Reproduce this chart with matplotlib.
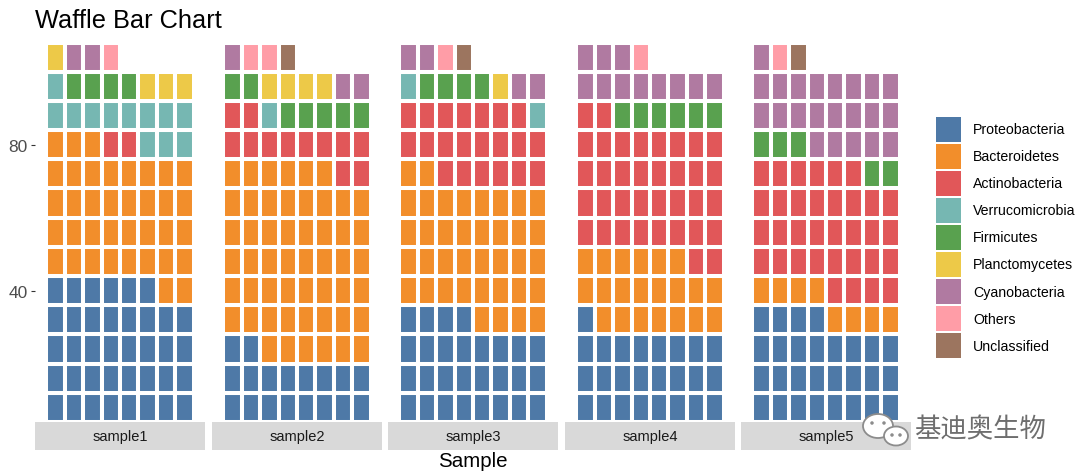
import matplotlib
matplotlib.use("Agg")
import matplotlib.pyplot as plt
from matplotlib.patches import Rectangle, Ellipse

# ---------------- data ----------------
categories = ["Proteobacteria", "Bacteroidetes", "Actinobacteria", "Verrucomicrobia",
              "Firmicutes", "Planctomycetes", "Cyanobacteria", "Others", "Unclassified"]
colors = ["#4E79A7", "#F28E2B", "#E15759", "#76B7B2", "#59A14F",
          "#EDC948", "#B07AA1", "#FF9DA7", "#9C755F"]
samples = ["sample1", "sample2", "sample3", "sample4", "sample5"]
sample1 = [38, 37, 2, 12, 4, 4, 2, 1, 0]
sample2 = [18, 52, 12, 1, 7, 4, 3, 2, 1]
sample3 = [28, 38, 21, 2, 4, 1, 4, 1, 1]
sample4 = [25, 21, 36, 0, 6, 0, 11, 1, 0]
sample5 = [28, 8, 34, 0, 5, 0, 22, 1, 1]
counts = [sample1, sample2, sample3, sample4, sample5]
n_cols = 8
y_ticks = [40, 80]
title = "Waffle Bar Chart"
xlabel = "Sample"
watermark = "基迪奥生物"

# ---------------- layout ----------------
W, H = 1080, 477
FONT = ["Liberation Sans", "DejaVu Sans"]
plt.rcParams["font.family"] = FONT
fig = plt.figure(figsize=(W / 100, H / 100), dpi=100)
fig.patch.set_facecolor("white")


def fx(px):
    return px / W


def fy(py):
    return 1 - py / H


panel_lefts = [35, 212, 388, 565, 741]
panel_w = 170
panel_top, panel_bot = 43.5, 423
strip_top, strip_bot = 423, 451

for i, (name, cnt) in enumerate(zip(samples, counts)):
    ax = fig.add_axes([fx(panel_lefts[i]), fy(panel_bot), fx(panel_w),
                       (panel_bot - panel_top) / H])
    labels = []
    for c, k in zip(range(len(categories)), cnt):
        labels += [c] * k
    xs = [j % n_cols + 1 for j in range(len(labels))]
    rows = [j // n_cols for j in range(len(labels))]
    ax.bar(xs, [n_cols] * len(labels),
           bottom=[n_cols * r + n_cols / 2 for r in rows],
           width=1.0, color=[colors[c] for c in labels],
           edgecolor="white", linewidth=2.9)
    ax.set_xlim(-0.11, 9.11)
    ax.set_ylim(4, 108)
    for s in ax.spines.values():
        s.set_visible(False)
    ax.set_xticks([])
    if i == 0:
        ax.set_yticks(y_ticks)
        ax.tick_params(axis="y", length=3.2, width=0.8, color="#333333",
                       labelsize=12.5, labelcolor="#4D4D4D", pad=2)
    else:
        ax.set_yticks([])
    ax.set_facecolor("white")
    # strip
    sax = fig.add_axes([fx(panel_lefts[i]), fy(strip_bot), fx(panel_w),
                        (strip_bot - strip_top) / H])
    sax.set_facecolor("#D9D9D9")
    for s in sax.spines.values():
        s.set_visible(False)
    sax.set_xticks([])
    sax.set_yticks([])
    sax.text(0.5, 0.5, name, ha="center", va="center", fontsize=10.5,
             color="#1A1A1A", transform=sax.transAxes)

fig.text(fx(35), fy(21), title, ha="left", va="center", fontsize=18.3, color="black")
fig.text(fx(473), fy(462), xlabel, ha="center", va="center", fontsize=14.8, color="black")

# legend
lax = fig.add_axes([0, 0, 1, 1])
lax.set_xlim(0, W)
lax.set_ylim(H, 0)
lax.axis("off")
lax.patch.set_alpha(0)
for j, (cat, col) in enumerate(zip(categories, colors)):
    yc = 130 + j * 27.1
    lax.add_patch(Rectangle((936, yc - 12.5), 25, 25, facecolor=col, edgecolor="none"))
    lax.text(973, yc, cat, ha="left", va="center", fontsize=10.2, color="black")

# watermark (icon + text)
lax.add_patch(Ellipse((878, 427), 30, 24, facecolor="white", edgecolor="#8C8C8C", lw=1.3))
lax.add_patch(Ellipse((896, 437), 24, 19, facecolor="white", edgecolor="#8C8C8C", lw=1.3))
for ex, ey in [(872, 424), (884, 424), (892, 436), (900, 436)]:
    lax.add_patch(Ellipse((ex, ey), 3.5, 3.5, facecolor="#8C8C8C", edgecolor="none"))
lax.text(914, 430, watermark, ha="left", va="center", fontsize=19, color="#6E6E6E",
         family=["Noto Sans CJK SC", "DejaVu Sans"])

fig.savefig("out.png", dpi=100, facecolor="white")
